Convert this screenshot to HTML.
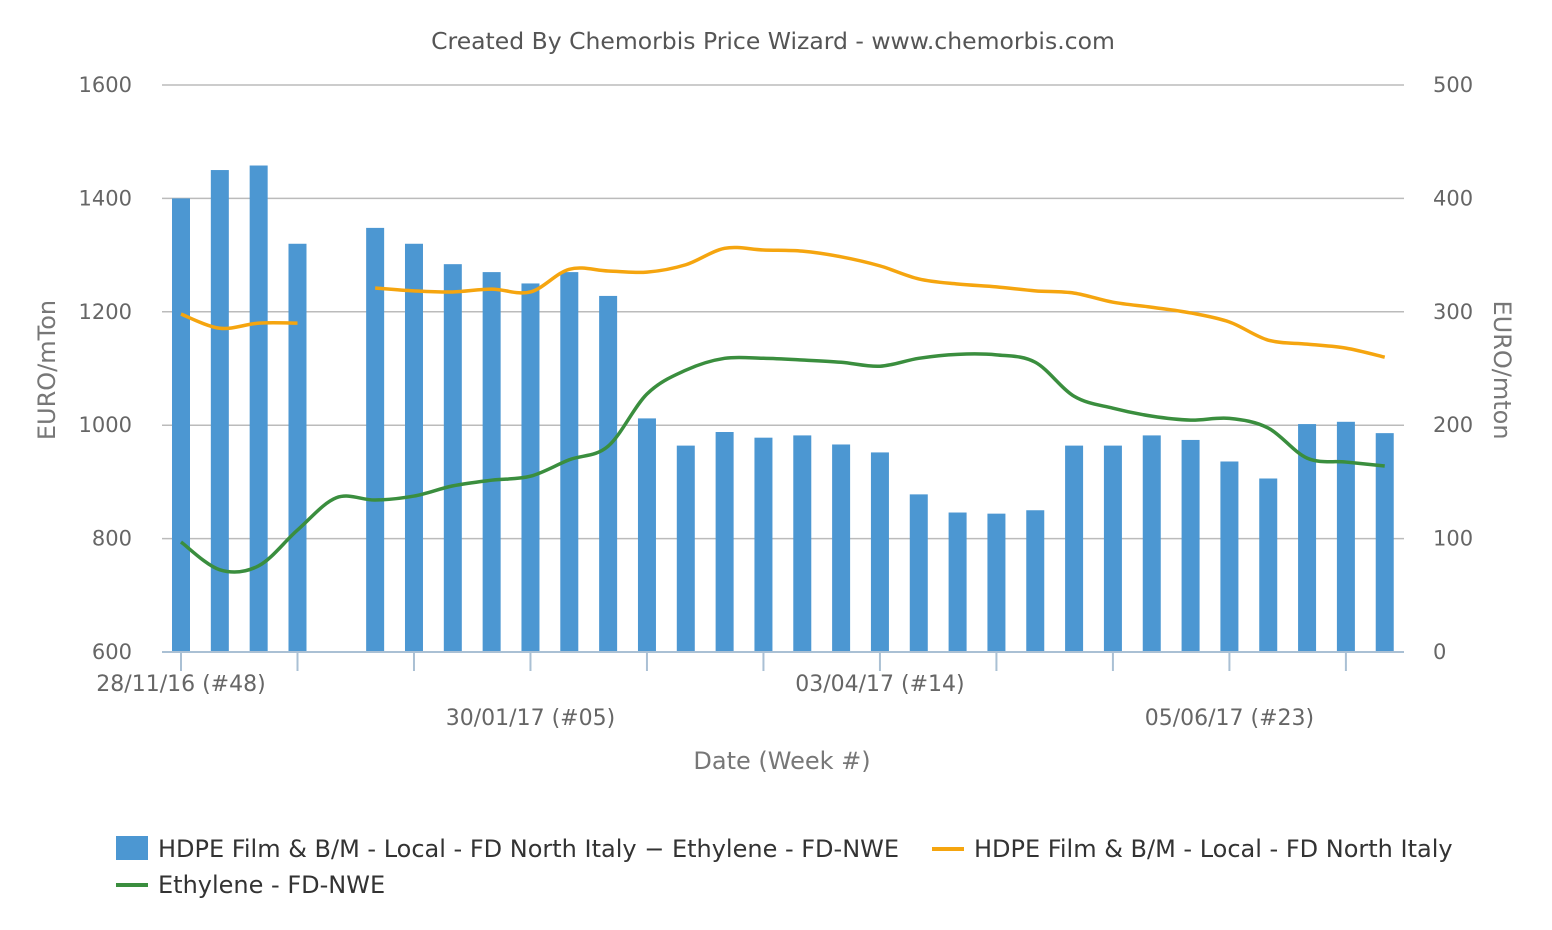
<!DOCTYPE html>
<html><head><meta charset="utf-8"><style>
body{margin:0;background:#fff;}
svg{display:block;font-family:"DejaVu Sans","Liberation Sans",sans-serif;}
</style></head><body>
<svg id="chart" width="1552" height="930">
<text x="773" y="49" text-anchor="middle" font-size="23.5" fill="#555">Created By Chemorbis Price Wizard - www.chemorbis.com</text>
<g id="grid"></g><g id="bars"></g><g id="lines"></g><g id="axes"></g>
<text transform="translate(55,370) rotate(-90)" text-anchor="middle" font-size="24" fill="#777">EURO/mTon</text>
<text transform="translate(1494,370) rotate(90)" text-anchor="middle" font-size="24" fill="#777">EURO/mton</text>
<text x="782" y="769" text-anchor="middle" font-size="24" fill="#777">Date (Week #)</text>
<g>
<g><rect x="116" y="836" width="32" height="24" fill="#4c97d2"/><text x="158" y="857" font-size="24" fill="#333">HDPE Film &amp; B/M - Local - FD North Italy − Ethylene - FD-NWE</text></g>
<g><rect x="932" y="847" width="32" height="4" fill="#f5a50f"/><text x="974" y="857" font-size="24" fill="#333">HDPE Film &amp; B/M - Local - FD North Italy</text></g>
<g><rect x="116" y="883" width="32" height="4" fill="#3a8e3e"/><text x="158" y="893" font-size="24" fill="#333">Ethylene - FD-NWE</text></g>
</g>
</svg>
<script>
const categories = ["28/11/16 (#48)","#49","#50","#51","#52","#01","#02","#03","#04","30/01/17 (#05)","#06","#07","#08","#09","#10","#11","#12","#13","03/04/17 (#14)","#15","#16","#17","#18","#19","#20","#21","#22","05/06/17 (#23)","#24","#25","#26","#27"];
const spreadValues = [400,425,429,360,null,374,360,342,335,325,335,314,206,182,194,189,191,183,176,139,123,122,125,182,182,191,187,168,153,201,203,193];
const hdpeValues = [1196,1171,1180,1180,null,1242,1237,1235,1240,1235,1275,1272,1270,1283,1312,1309,1307,1297,1281,1258,1249,1244,1237,1233,1217,1208,1198,1182,1150,1143,1136,1120];
const ethyleneValues = [794,745,752,815,872,868,875,893,903,910,939,963,1055,1097,1118,1118,1115,1111,1104,1118,1125,1124,1111,1051,1030,1016,1009,1012,995,942,935,928];
const leftTicks = [600,800,1000,1200,1400,1600];
const rightTicks = [0,100,200,300,400,500];
const labelIdx = [0,9,18,27];

const NS="http://www.w3.org/2000/svg";
const X0=162,X1=1404,Y0=652,Y1=85;
const step=38.83, first=181;
const xPos=i=>first+i*step;
const yL=v=>Y0-(v-600)/1000*(Y0-Y1);
const yR=v=>Y0-v/500*(Y0-Y1);
function mk(tag,attrs,parent){const e=document.createElementNS(NS,tag);for(const k in attrs)e.setAttribute(k,attrs[k]);document.getElementById(parent).appendChild(e);return e;}

leftTicks.forEach((t,i)=>{
  const y=yL(t);
  if(i>0){const g=mk('line',{x1:X0,x2:X1,y1:y,y2:y,stroke:'#bbb','stroke-width':1.5},'grid');
  
  }
  const l=mk('text',{x:132,y:y+7,'text-anchor':'end','font-size':21,fill:'#666'},'axes');l.textContent=t;
  
  
});
rightTicks.forEach(t=>{
  const l=mk('text',{x:1433,y:yR(t)+7,'font-size':21,fill:'#666'},'axes');l.textContent=t;
  
  
});
const ax=mk('line',{x1:X0,x2:X1,y1:Y0,y2:Y0,stroke:'#aac0d4','stroke-width':2},'axes');


for(let i=0;i<categories.length;i+=3){
  const x=xPos(i);
  const t=mk('line',{x1:x,x2:x,y1:Y0,y2:Y0+19,stroke:'#aac0d4','stroke-width':2},'axes');
  
  
}
labelIdx.forEach((i,k)=>{
  const l=mk('text',{x:xPos(i),y:k%2?725:691,'text-anchor':'middle','font-size':22,fill:'#666'},'axes');
  l.textContent=categories[i];
  
  
});
spreadValues.forEach((v,i)=>{
  if(v==null)return;
  const y=yR(v);
  const b=mk('rect',{x:xPos(i)-9,y:y,width:18,height:Y0-y,fill:'#4c97d2'},'bars');
  
  
});
function smooth(pts){
  let d='M'+pts[0][0]+','+pts[0][1];
  for(let i=0;i<pts.length-1;i++){
    const p0=pts[i-1]||pts[i],p1=pts[i],p2=pts[i+1],p3=pts[i+2]||p2;
    const c1=[p1[0]+(p2[0]-p0[0])/6,p1[1]+(p2[1]-p0[1])/6];
    const c2=[p2[0]-(p3[0]-p1[0])/6,p2[1]-(p3[1]-p1[1])/6];
    d+=`C${c1[0]},${c1[1]} ${c2[0]},${c2[1]} ${p2[0]},${p2[1]}`;
  }
  return d;
}
function drawLine(vals,color,name){
  let seg=[];const segs=[];
  vals.forEach((v,i)=>{if(v==null){if(seg.length)segs.push(seg);seg=[];}else seg.push([xPos(i),yL(v)]);});
  if(seg.length)segs.push(seg);
  segs.forEach(s=>{
    const p=mk('path',{d:smooth(s),fill:'none',stroke:color,'stroke-width':3.5},'lines');
    
    
  });
}
drawLine(hdpeValues,'#f5a50f','hdpe-line');
drawLine(ethyleneValues,'#3a8e3e','ethylene-line');
</script>
</body></html>
